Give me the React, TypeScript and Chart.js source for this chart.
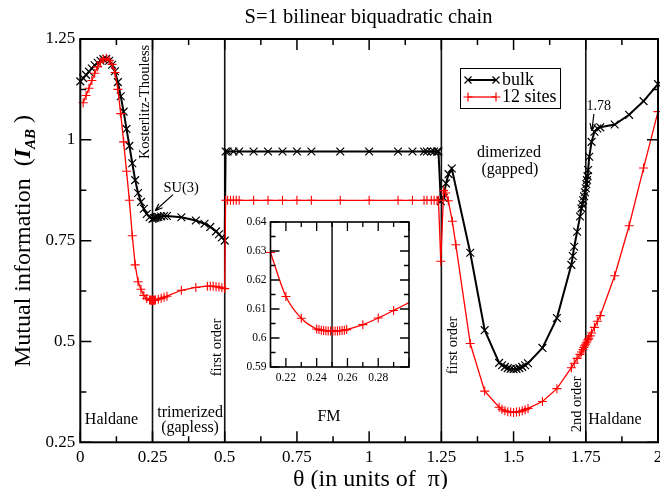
import React, { useEffect, useRef } from 'react';
import { Chart, registerables } from 'chart.js';
Chart.register(...registerables);

const FONT = "'Liberation Serif', 'Times New Roman', serif";

// ---------- data ----------
const bulkTheta = [
  0.00, 0.01, 0.02, 0.03, 0.04, 0.05, 0.06, 0.07, 0.08, 0.09, 0.10, 0.11, 0.12, 0.13, 0.14, 0.15,
  0.16, 0.17, 0.18, 0.19, 0.20, 0.21, 0.22, 0.23, 0.24, 0.25, 0.255, 0.26, 0.265, 0.27, 0.28, 0.29,
  0.30, 0.35, 0.40, 0.43, 0.45, 0.47, 0.48, 0.49, 0.50,
  0.503, 0.51, 0.53, 0.55, 0.60, 0.65, 0.70, 0.75, 0.80, 0.90, 1.00, 1.10, 1.15, 1.19, 1.20, 1.215,
  1.225, 1.235, 1.24,
  1.248, 1.258, 1.266, 1.275, 1.286, 1.35, 1.40, 1.45, 1.46, 1.47, 1.48, 1.49, 1.50, 1.51, 1.52,
  1.53, 1.54, 1.55, 1.60, 1.65, 1.70, 1.705, 1.71, 1.72, 1.73, 1.735, 1.738, 1.741, 1.744, 1.747,
  1.75, 1.752, 1.754, 1.756, 1.758, 1.762, 1.77, 1.78, 1.79, 1.80, 1.85, 1.90, 1.95, 2.00,
];
const bulkI = [
  1.145, 1.153, 1.161, 1.169, 1.177, 1.185, 1.191, 1.196, 1.200, 1.201, 1.196, 1.186, 1.170, 1.143, 1.108, 1.070,
  1.027, 0.985, 0.942, 0.900, 0.868, 0.846, 0.829, 0.816, 0.808, 0.804, 0.806, 0.807, 0.808, 0.809, 0.810, 0.811,
  0.811, 0.808, 0.800, 0.792, 0.784, 0.773, 0.766, 0.758, 0.750,
  0.971, 0.971, 0.971, 0.971, 0.971, 0.971, 0.971, 0.971, 0.971, 0.971, 0.971, 0.971, 0.971, 0.971, 0.971, 0.971,
  0.971, 0.971, 0.971,
  0.848, 0.856, 0.892, 0.915, 0.929, 0.720, 0.528, 0.447, 0.441, 0.437, 0.434, 0.432, 0.431, 0.432, 0.434,
  0.437, 0.441, 0.446, 0.484, 0.558, 0.690, 0.712, 0.735, 0.772, 0.810, 0.830, 0.840, 0.850, 0.860, 0.870,
  0.880, 0.890, 0.900, 0.910, 0.925, 0.958, 0.995, 1.020, 1.028, 1.031, 1.038, 1.062, 1.096, 1.138,
];

const sitesTheta = [
  0.01, 0.02, 0.03, 0.04, 0.05, 0.06, 0.07, 0.08, 0.09, 0.10, 0.11, 0.12, 0.13, 0.14, 0.15, 0.16,
  0.17, 0.18, 0.19, 0.20, 0.21, 0.22, 0.23, 0.24, 0.2425, 0.245, 0.2475, 0.25, 0.2525, 0.255, 0.2575,
  0.26, 0.27, 0.28, 0.29, 0.30, 0.35, 0.40, 0.44, 0.45, 0.46, 0.47, 0.48, 0.49, 0.50,
  0.503, 0.51, 0.52, 0.53, 0.54, 0.55, 0.60, 0.65, 0.70, 0.75, 0.80, 0.90, 1.00, 1.10, 1.15, 1.19,
  1.20, 1.215, 1.225, 1.235, 1.24,
  1.248, 1.258, 1.265, 1.274, 1.288, 1.30, 1.35, 1.40, 1.45, 1.46, 1.47, 1.48, 1.49, 1.50, 1.51,
  1.52, 1.53, 1.54, 1.55, 1.60, 1.65, 1.70, 1.71, 1.72, 1.73, 1.735, 1.74, 1.743, 1.746, 1.749,
  1.752, 1.755, 1.758, 1.76, 1.765, 1.77, 1.78, 1.79, 1.80, 1.85, 1.90, 1.95, 2.00,
];
const sitesI = [
  1.092, 1.110, 1.128, 1.147, 1.165, 1.181, 1.193, 1.200, 1.202, 1.197, 1.187, 1.167, 1.125, 1.065, 0.995, 0.922,
  0.850, 0.762, 0.690, 0.648, 0.6295, 0.6143, 0.6068, 0.6031, 0.6027, 0.6025, 0.6024, 0.6024, 0.6024, 0.6025, 0.6026,
  0.6028, 0.6046, 0.6069, 0.6095, 0.6122, 0.627, 0.634, 0.637, 0.637, 0.637, 0.636, 0.635, 0.633, 0.631,
  0.850, 0.850, 0.850, 0.850, 0.850, 0.850, 0.850, 0.850, 0.850, 0.850, 0.850, 0.850, 0.850, 0.850, 0.850, 0.850,
  0.850, 0.850, 0.850, 0.850, 0.850,
  0.699, 0.874, 0.868, 0.849, 0.798, 0.740, 0.495, 0.377, 0.337, 0.332, 0.328, 0.326, 0.325, 0.324, 0.325,
  0.326, 0.328, 0.331, 0.334, 0.351, 0.383, 0.435, 0.446, 0.458, 0.468, 0.474, 0.480, 0.485, 0.489, 0.493,
  0.497, 0.501, 0.505, 0.508, 0.514, 0.521, 0.535, 0.550, 0.564, 0.663, 0.787, 0.930, 1.070,
];

// inset (12 sites, around the SU(3) point)
const insetTheta = [
  0.21, 0.22, 0.23, 0.24, 0.2415, 0.243, 0.2445, 0.246, 0.2475, 0.249, 0.2505, 0.252, 0.2535, 0.255,
  0.2565, 0.258, 0.2595, 0.27, 0.28, 0.29, 0.30,
];
const insetI = [
  0.6295, 0.6143, 0.6068, 0.6031, 0.6029, 0.6027, 0.6026, 0.6025, 0.6024, 0.6024, 0.6024, 0.6024, 0.6024, 0.6025,
  0.6026, 0.6027, 0.6029, 0.6046, 0.6069, 0.6095, 0.6122,
];

const phaseBoundaries = [0.25, 0.5, 1.25, 1.75];
const insetBoundary = [0.25];

const xTickValues = [0, 0.25, 0.5, 0.75, 1, 1.25, 1.5, 1.75, 2];
const xTickLabels = ['0', '0.25', '0.5', '0.75', '1', '1.25', '1.5', '1.75', '2'];
const yTickValues = [0.25, 0.5, 0.75, 1, 1.25];
const yTickLabels = ['0.25', '0.5', '0.75', '1', '1.25'];
const insetXTickValues = [0.22, 0.24, 0.26, 0.28];
const insetXTickLabels = ['0.22', '0.24', '0.26', '0.28'];
const insetYTickValues = [0.59, 0.6, 0.61, 0.62, 0.63, 0.64];
const insetYTickLabels = ['0.59', '0.6', '0.61', '0.62', '0.63', '0.64'];

const seriesNames = ['bulk', '12 sites'];
const chartTitle = 'S=1 bilinear biquadratic chain';

// ---------- helpers ----------
const pts = (xs: number[], ys: number[]) => xs.map((x, i) => ({ x, y: ys[i] }));
const near = (a: number, b: number) => Math.abs(a - b) < 1e-6;
const labelFor = (v: number, vals: number[], labels: string[]) => {
  const i = vals.findIndex((w) => near(w, v));
  return i >= 0 ? labels[i] : '';
};
const isMult = (v: number, step: number) => Math.abs(v / step - Math.round(v / step)) < 1e-4;
const noPad = (s: any) => { s.paddingLeft = 0; s.paddingRight = 0; s.paddingTop = 0; s.paddingBottom = 0; };

function drawInwardTicks(chart: any, majorX: number, majorY: number, big: number, small: number, lw: number) {
  const { ctx, chartArea: a, scales: { x, y } } = chart;
  ctx.save();
  ctx.strokeStyle = '#000';
  ctx.lineWidth = lw;
  ctx.beginPath();
  for (const t of x.ticks) {
    const px = x.getPixelForValue(t.value);
    const len = isMult(t.value, majorX) ? big : small;
    ctx.moveTo(px, a.bottom); ctx.lineTo(px, a.bottom - len);
    ctx.moveTo(px, a.top); ctx.lineTo(px, a.top + len);
  }
  for (const t of y.ticks) {
    const py = y.getPixelForValue(t.value);
    const len = isMult(t.value, majorY) ? big : small;
    ctx.moveTo(a.left, py); ctx.lineTo(a.left + len, py);
    ctx.moveTo(a.right, py); ctx.lineTo(a.right - len, py);
  }
  ctx.stroke();
  ctx.restore();
}

function txt(ctx: CanvasRenderingContext2D, s: string, x: number, y: number, font: string, rot = 0, align: CanvasTextAlign = 'center') {
  ctx.save();
  ctx.translate(x, y);
  if (rot) ctx.rotate(rot);
  ctx.font = font;
  ctx.fillStyle = '#000';
  ctx.textAlign = align;
  ctx.textBaseline = 'middle';
  ctx.fillText(s, 0, 0);
  ctx.restore();
}

function arrow(ctx: CanvasRenderingContext2D, x1: number, y1: number, x2: number, y2: number) {
  const ang = Math.atan2(y2 - y1, x2 - x1);
  const h = 8;
  ctx.save();
  ctx.strokeStyle = '#000';
  ctx.lineWidth = 1.2;
  ctx.beginPath();
  ctx.moveTo(x1, y1); ctx.lineTo(x2, y2);
  ctx.moveTo(x2, y2); ctx.lineTo(x2 - h * Math.cos(ang - 0.35), y2 - h * Math.sin(ang - 0.35));
  ctx.moveTo(x2, y2); ctx.lineTo(x2 - h * Math.cos(ang + 0.35), y2 - h * Math.sin(ang + 0.35));
  ctx.stroke();
  ctx.restore();
}

function xMark(ctx: CanvasRenderingContext2D, x: number, y: number, r: number, color: string) {
  ctx.save(); ctx.strokeStyle = color; ctx.lineWidth = 1.2; ctx.beginPath();
  ctx.moveTo(x - r, y - r); ctx.lineTo(x + r, y + r); ctx.moveTo(x - r, y + r); ctx.lineTo(x + r, y - r);
  ctx.stroke(); ctx.restore();
}
function plusMark(ctx: CanvasRenderingContext2D, x: number, y: number, r: number, color: string) {
  ctx.save(); ctx.strokeStyle = color; ctx.lineWidth = 1.2; ctx.beginPath();
  ctx.moveTo(x - r, y); ctx.lineTo(x + r, y); ctx.moveTo(x, y - r); ctx.lineTo(x, y + r);
  ctx.stroke(); ctx.restore();
}

const mainDecor = {
  id: 'mainDecor',
  beforeDatasetsDraw(chart: any) {
    const { ctx, chartArea: a, scales: { x } } = chart;
    ctx.save();
    ctx.strokeStyle = '#111';
    ctx.lineWidth = 1.6;
    ctx.beginPath();
    for (const b of phaseBoundaries) {
      const px = x.getPixelForValue(b);
      ctx.moveTo(px, a.top); ctx.lineTo(px, a.bottom);
    }
    ctx.stroke();
    ctx.restore();
  },
  afterDraw(chart: any) {
    const { ctx, chartArea: a, scales: { x, y } } = chart;
    const X = (v: number) => x.getPixelForValue(v);
    const Y = (v: number) => y.getPixelForValue(v);
    // frame
    ctx.save();
    ctx.strokeStyle = '#000';
    ctx.lineWidth = 2;
    ctx.strokeRect(a.left, a.top, a.right - a.left, a.bottom - a.top);
    ctx.restore();
    drawInwardTicks(chart, 0.25, 0.25, 11, 6, 1.5);

    const f14 = `14.5px ${FONT}`;
    const f16 = `16px ${FONT}`;
    const up = -Math.PI / 2;
    txt(ctx, 'Kosterlitz-Thouless', X(0.224), Y(1.094), f14, up);
    txt(ctx, 'SU(3)', X(0.349), Y(0.881), f14);
    arrow(ctx, X(0.321), Y(0.864), X(0.259), Y(0.824));
    txt(ctx, 'first order', X(0.475), Y(0.485), f14, up);
    txt(ctx, 'first order', X(1.292), Y(0.49), f14, up);
    txt(ctx, '2nd order', X(1.72), Y(0.344), f14, up);
    txt(ctx, 'Haldane', X(0.108), Y(0.307), f16);
    txt(ctx, 'trimerized', X(0.38), Y(0.324), f16);
    txt(ctx, '(gapless)', X(0.38), Y(0.287), f16);
    txt(ctx, 'FM', X(0.861), Y(0.312), f16);
    txt(ctx, 'Haldane', X(1.851), Y(0.307), f16);
    txt(ctx, 'dimerized', X(1.484), Y(0.968), f16);
    txt(ctx, '(gapped)', X(1.487), Y(0.926), f16);
    txt(ctx, '1.78', X(1.795), Y(1.082), `14px ${FONT}`);
    arrow(ctx, X(1.778), Y(1.064), X(1.771), Y(1.022));

    // legend
    ctx.save();
    ctx.strokeStyle = '#000';
    ctx.lineWidth = 1;
    ctx.strokeRect(460.5, 68.5, 100, 40);
    ctx.strokeStyle = '#000'; ctx.lineWidth = 2;
    ctx.beginPath(); ctx.moveTo(468, 80); ctx.lineTo(496, 80); ctx.stroke();
    ctx.strokeStyle = '#ff0000'; ctx.lineWidth = 1.3;
    ctx.beginPath(); ctx.moveTo(468, 97); ctx.lineTo(496, 97); ctx.stroke();
    ctx.restore();
    xMark(ctx, 468, 80, 3.5, '#000'); xMark(ctx, 496, 80, 3.5, '#000');
    plusMark(ctx, 468, 97, 4.5, '#ff0000'); plusMark(ctx, 496, 97, 4.5, '#ff0000');
    txt(ctx, seriesNames[0], 502, 80.5, `18px ${FONT}`, 0, 'left');
    txt(ctx, seriesNames[1], 502, 97.5, `18px ${FONT}`, 0, 'left');

    // title
    txt(ctx, chartTitle, 368.5, 18, `20.5px ${FONT}`);

    // x title
    ctx.save();
    ctx.font = `24px ${FONT}`;
    ctx.fillStyle = '#000';
    ctx.textAlign = 'center';
    ctx.textBaseline = 'alphabetic';
    ctx.fillText('\u03b8 (in units of  \u03c0)', 370.5, 485.5);
    ctx.restore();

    // y title (rich, rotated)
    const runs = [
      { t: 'Mutual information  (', font: `24px ${FONT}`, dy: 0 },
      { t: 'I', font: `italic bold 24px ${FONT}`, dy: 0 },
      { t: 'AB', font: `italic bold 15px ${FONT}`, dy: 5 },
      { t: ' )', font: `24px ${FONT}`, dy: 0 },
    ];
    ctx.save();
    ctx.translate(22, 241);
    ctx.rotate(-Math.PI / 2);
    ctx.fillStyle = '#000';
    ctx.textAlign = 'left';
    ctx.textBaseline = 'alphabetic';
    let total = 0;
    for (const r of runs) { ctx.font = r.font; total += ctx.measureText(r.t).width; }
    let xx = -total / 2;
    for (const r of runs) {
      ctx.font = r.font;
      ctx.fillText(r.t, xx, 8 + r.dy);
      xx += ctx.measureText(r.t).width;
    }
    ctx.restore();
  },
};

const insetDecor = {
  id: 'insetDecor',
  beforeDraw(chart: any) {
    const { ctx, chartArea: a } = chart;
    if (!a) return;
    ctx.save();
    ctx.fillStyle = '#fff';
    ctx.fillRect(a.left, a.top, a.right - a.left, a.bottom - a.top);
    ctx.restore();
  },
  beforeDatasetsDraw(chart: any) {
    const { ctx, chartArea: a, scales: { x } } = chart;
    ctx.save();
    ctx.strokeStyle = '#111';
    ctx.lineWidth = 1.5;
    ctx.beginPath();
    for (const b of insetBoundary) {
      const px = x.getPixelForValue(b);
      ctx.moveTo(px, a.top); ctx.lineTo(px, a.bottom);
    }
    ctx.stroke();
    ctx.restore();
  },
  afterDraw(chart: any) {
    const { ctx, chartArea: a } = chart;
    ctx.save();
    ctx.strokeStyle = '#000';
    ctx.lineWidth = 1.6;
    ctx.strokeRect(a.left, a.top, a.right - a.left, a.bottom - a.top);
    ctx.restore();
    drawInwardTicks(chart, 0.02, 0.01, 9, 5, 1.3);
  },
};

export default function App() {
  const mainRef = useRef<HTMLCanvasElement>(null);
  const insetRef = useRef<HTMLCanvasElement>(null);

  useEffect(() => {
    document.body.style.margin = '0';
    Chart.defaults.font.family = FONT;
    Chart.defaults.color = '#000';

    const main = new Chart(mainRef.current as HTMLCanvasElement, {
      type: 'line',
      data: {
        datasets: [
          {
            label: seriesNames[0],
            data: pts(bulkTheta, bulkI),
            borderColor: '#000',
            borderWidth: 2,
            pointStyle: 'crossRot',
            pointRadius: 5.5,
            pointBorderWidth: 1.2,
            pointBorderColor: '#000',
            pointBackgroundColor: '#000',
            tension: 0,
            order: 2,
            clip: false,
          },
          {
            label: seriesNames[1],
            data: pts(sitesTheta, sitesI),
            borderColor: '#ff0000',
            borderWidth: 1.3,
            pointStyle: 'cross',
            pointRadius: 4.5,
            pointBorderWidth: 1.1,
            pointBorderColor: '#ff0000',
            pointBackgroundColor: '#ff0000',
            tension: 0,
            order: 1,
            clip: false,
          },
        ] as any,
      },
      options: {
        responsive: false,
        animation: false,
        devicePixelRatio: 1,
        events: [],
        layout: { autoPadding: false, padding: { top: 39, right: 2, left: 0, bottom: 0 } },
        plugins: { legend: { display: false }, tooltip: { enabled: false }, title: { display: false } },
        scales: {
          x: {
            type: 'linear',
            min: 0,
            max: 2,
            grid: { display: false, drawTicks: false },
            border: { display: false },
            ticks: {
              stepSize: 0.125,
              autoSkip: false,
              maxRotation: 0,
              padding: 5,
              color: '#000',
              font: { size: 17, family: FONT },
              callback: (v: any) => labelFor(Number(v), xTickValues, xTickLabels),
            },
            afterFit: (s: any) => { s.height = 46.7; noPad(s); },
          },
          y: {
            type: 'linear',
            min: 0.25,
            max: 1.25,
            grid: { display: false, drawTicks: false },
            border: { display: false },
            ticks: {
              stepSize: 0.125,
              autoSkip: false,
              padding: 5,
              color: '#000',
              font: { size: 17, family: FONT },
              callback: (v: any) => labelFor(Number(v), yTickValues, yTickLabels),
            },
            afterFit: (s: any) => { s.width = 80.3; noPad(s); },
          },
        },
      } as any,
      plugins: [mainDecor],
    });

    const inset = new Chart(insetRef.current as HTMLCanvasElement, {
      type: 'line',
      data: {
        datasets: [
          {
            label: seriesNames[1],
            data: pts(insetTheta, insetI),
            borderColor: '#ff0000',
            borderWidth: 1.3,
            pointStyle: 'cross',
            pointRadius: (c: any) => (c.raw && c.raw.x > 0.2995 ? 0 : 4.5),
            pointBorderWidth: 1.1,
            pointBorderColor: '#ff0000',
            pointBackgroundColor: '#ff0000',
            cubicInterpolationMode: 'monotone',
            clip: false,
          },
        ] as any,
      },
      options: {
        responsive: false,
        animation: false,
        devicePixelRatio: 1,
        events: [],
        layout: { autoPadding: false, padding: { top: 6, right: 3, left: 0, bottom: 0 } },
        plugins: { legend: { display: false }, tooltip: { enabled: false }, title: { display: false } },
        scales: {
          x: {
            type: 'linear',
            min: 0.21,
            max: 0.3,
            grid: { display: false, drawTicks: false },
            border: { display: false },
            ticks: {
              stepSize: 0.01,
              autoSkip: false,
              maxRotation: 0,
              padding: 4,
              color: '#000',
              font: { size: 11.5, family: FONT },
              callback: (v: any) => labelFor(Number(v), insetXTickValues, insetXTickLabels),
            },
            afterFit: (s: any) => { s.height = 23; noPad(s); },
          },
          y: {
            type: 'linear',
            min: 0.59,
            max: 0.64,
            grid: { display: false, drawTicks: false },
            border: { display: false },
            ticks: {
              stepSize: 0.005,
              autoSkip: false,
              padding: 4,
              color: '#000',
              font: { size: 11.5, family: FONT },
              callback: (v: any) => labelFor(Number(v), insetYTickValues, insetYTickLabels),
            },
            afterFit: (s: any) => { s.width = 42.5; noPad(s); },
          },
        },
      } as any,
      plugins: [insetDecor],
    });

    return () => {
      main.destroy();
      inset.destroy();
    };
  }, []);

  return (
    <div style={{ position: 'absolute', left: 0, top: 0, width: 660, height: 489, background: '#fff' }}>
      <canvas
        ref={mainRef}
        width={660}
        height={489}
        style={{ position: 'absolute', left: 0, top: 0, width: 660, height: 489 }}
      />
      <canvas
        ref={insetRef}
        width={184}
        height={174}
        style={{ position: 'absolute', left: 228, top: 216, width: 184, height: 174 }}
      />
    </div>
  );
}
